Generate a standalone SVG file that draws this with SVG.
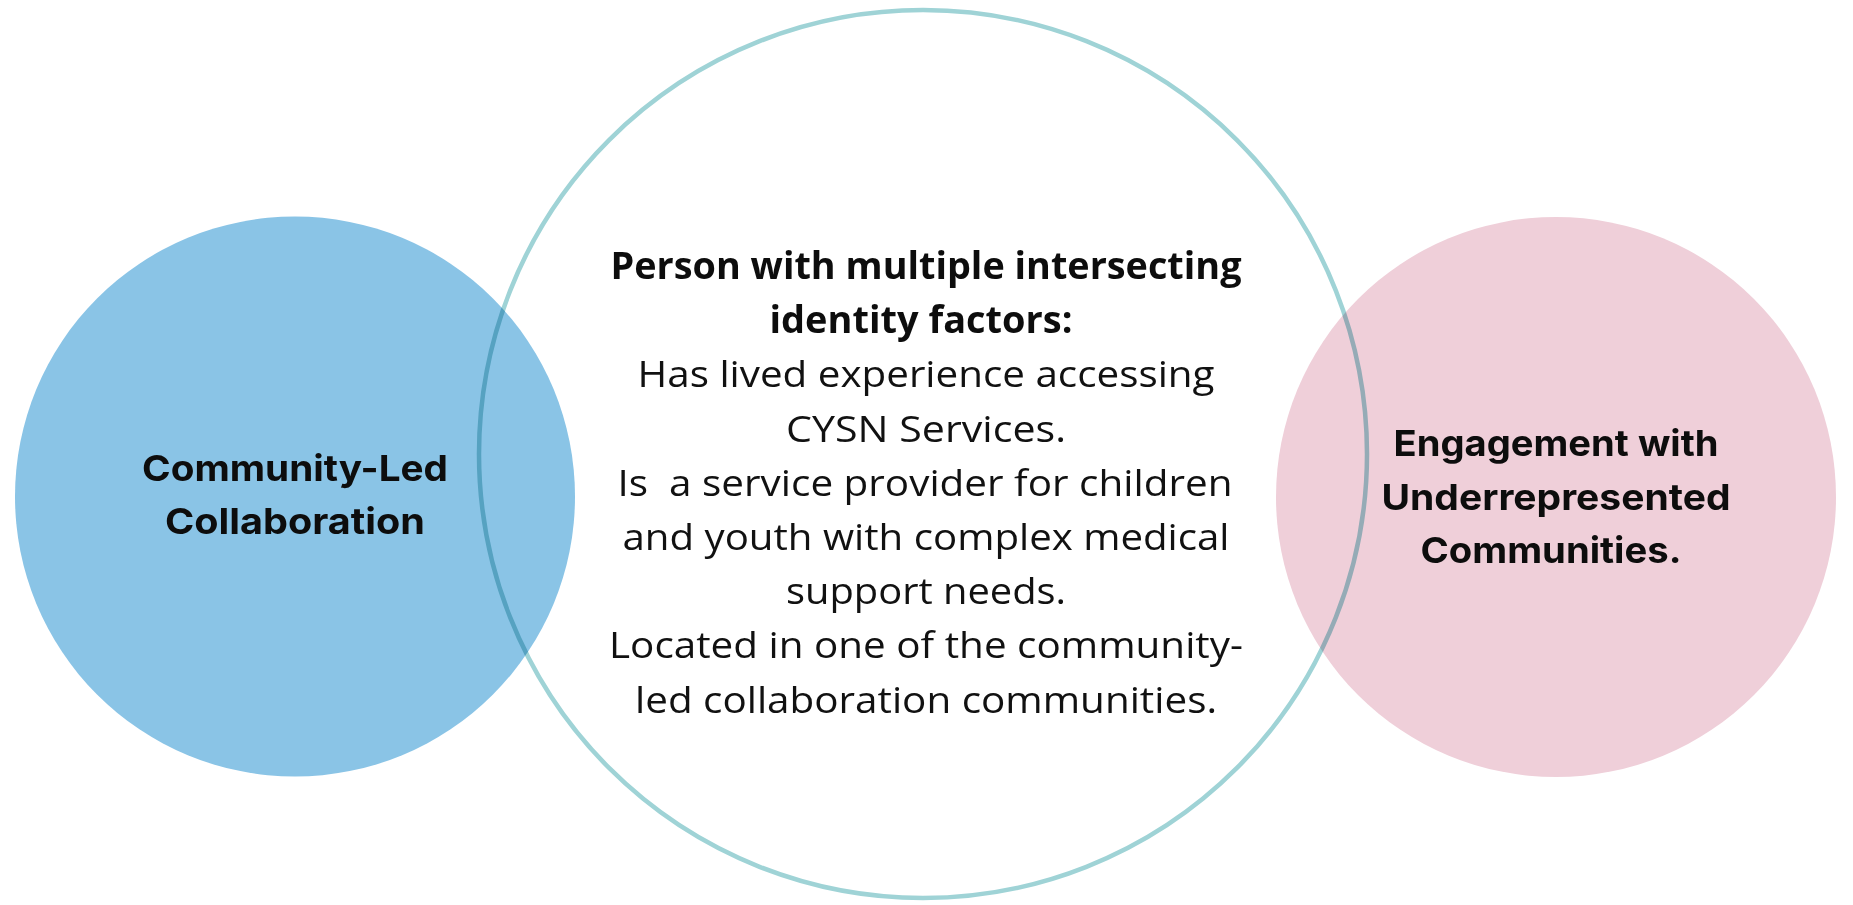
<svg xmlns="http://www.w3.org/2000/svg" width="1853" height="905" viewBox="0 0 1853 905">
  <style>
    .lbl { font-family: Inter, "Liberation Sans", sans-serif; font-weight: 700; font-size: 36px; fill: #0d0d0d; text-anchor: middle; }
    .hd { font-family: "Open Sans", "Noto Sans", sans-serif; font-weight: 700; font-size: 37px; fill: #0d0d0d; text-anchor: middle; }
    .bd { font-family: "Open Sans", "Noto Sans", sans-serif; font-weight: 400; font-size: 37px; fill: #111111; text-anchor: middle; }
    .blend { mix-blend-mode: multiply; }
  </style>
  <rect x="0" y="0" width="1853" height="905" fill="#ffffff"/>
  <g id="center-node">
    <circle cx="923" cy="454" r="444" fill="none" stroke="#9fd3d6" stroke-width="4.5"/>
    <text class="hd" x="926" y="279" textLength="631" lengthAdjust="spacingAndGlyphs">Person with multiple intersecting</text>
    <text class="hd" x="921" y="333" textLength="303" lengthAdjust="spacingAndGlyphs">identity factors:</text>
    <text class="bd" x="926" y="387" textLength="577" lengthAdjust="spacingAndGlyphs">Has lived experience accessing</text>
    <text class="bd" x="926" y="442" textLength="280" lengthAdjust="spacingAndGlyphs">CYSN Services.</text>
    <text class="bd" x="925" y="496" textLength="615" lengthAdjust="spacingAndGlyphs" xml:space="preserve">Is  a service provider for children</text>
    <text class="bd" x="926" y="550" textLength="607" lengthAdjust="spacingAndGlyphs">and youth with complex medical</text>
    <text class="bd" x="926" y="604" textLength="280" lengthAdjust="spacingAndGlyphs">support needs.</text>
    <text class="bd" x="926" y="658" textLength="634" lengthAdjust="spacingAndGlyphs">Located in one of the community-</text>
    <text class="bd" x="926" y="713" textLength="582" lengthAdjust="spacingAndGlyphs">led collaboration communities.</text>
  </g>
  <g id="left-node">
    <circle class="blend" cx="295" cy="496.5" r="280" fill="#8ac4e6"/>
    <text class="lbl" x="295" y="481" textLength="306" lengthAdjust="spacingAndGlyphs">Community-Led</text>
    <text class="lbl" x="295" y="534" textLength="260" lengthAdjust="spacingAndGlyphs">Collaboration</text>
  </g>
  <g id="right-node">
    <circle class="blend" cx="1556" cy="497" r="280" fill="#efcfd9"/>
    <text class="lbl" x="1556" y="456" textLength="325" lengthAdjust="spacingAndGlyphs">Engagement with</text>
    <text class="lbl" x="1556" y="510" textLength="349" lengthAdjust="spacingAndGlyphs">Underrepresented</text>
    <text class="lbl" x="1551" y="563" textLength="261" lengthAdjust="spacingAndGlyphs">Communities.</text>
  </g>
  <g id="connectors"></g>
</svg>
